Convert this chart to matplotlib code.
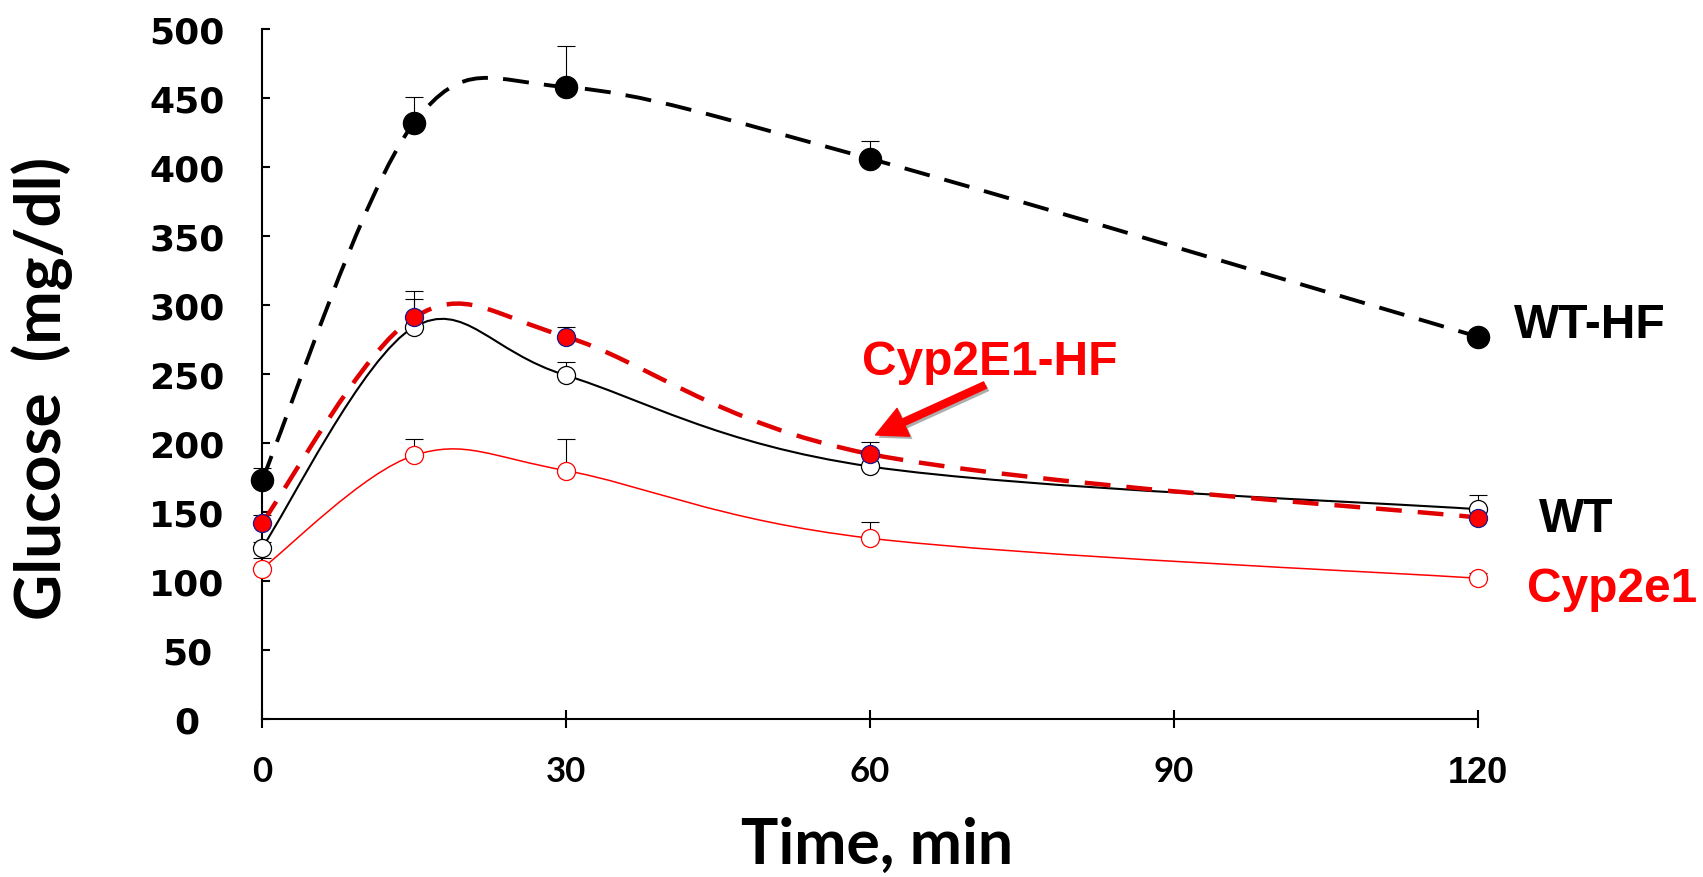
import numpy as np
import matplotlib
matplotlib.use('Agg')
import matplotlib.pyplot as plt
from matplotlib.path import Path
from matplotlib.patches import PathPatch
import matplotlib.patheffects as pe

# glucose tolerance test, mg/dl
time = [0, 15, 30, 60, 120]

wt = [124, 284, 249, 183, 152]
wt_err = [4, 26, 10, 12, 10]

wt_hf = [173, 432, 458, 406, 277]
wt_hf_err = [9, 19, 30, 13, 0]

cyp = [109, 191, 180, 131, 102]
cyp_err = [8, 12, 23, 12, 4]

cyp_hf = [142, 291, 277, 192, 146]
cyp_hf_err = [6, 13, 7, 9, 0]


def smooth_path(x, y):
    # excel style smoothed line: catmull-rom tangents as bezier handles
    pts = np.column_stack([x, y]).astype(float)
    ext = np.vstack([pts[0], pts, pts[-1]])
    verts = [pts[0]]
    codes = [Path.MOVETO]
    for i in range(len(pts) - 1):
        p0, p1, p2, p3 = ext[i], ext[i + 1], ext[i + 2], ext[i + 3]
        verts += [p1 + (p2 - p0) / 6, p2 - (p3 - p1) / 6, p2]
        codes += [Path.CURVE4] * 3
    return Path(verts, codes)


fig = plt.figure(figsize=(17.03, 8.78), dpi=100)
ax = fig.add_axes([262 / 1703, 1 - 720 / 878, (1478 - 262) / 1703, (720 - 30) / 878])

series = [
    # values, errors, line color, line width, dash, marker face, marker edge, marker size
    (wt, wt_err, 'black', 1.5, 'solid', 'white', 'black', 13),
    (cyp, cyp_err, 'red', 1.1, 'solid', 'white', 'red', 13),
    (cyp_hf, cyp_hf_err, '#e00000', 3.2, (0, (5.8, 3.6)), 'red', '#1a1a8c', 13),
    (wt_hf, wt_hf_err, 'black', 2.8, (0, (6.7, 3.9)), 'black', 'black', 16),
]

for vals, err, col, lw, ls, mfc, mec, ms in series:
    ax.errorbar(time, vals, yerr=[np.zeros(len(err)), err], fmt='none',
                ecolor='black', elinewidth=0.8, capsize=6.5, capthick=0.8,
                zorder=2, clip_on=False)
    ax.add_patch(PathPatch(smooth_path(time, vals), fill=False, edgecolor=col,
                           linewidth=lw, linestyle=ls, zorder=3))
    ax.plot(time, vals, ls='none', marker='o', ms=ms, mfc=mfc, mec=mec,
            mew=0.9, zorder=4, clip_on=False)

ax.set_xlim(0, 120)
ax.set_ylim(0, 500)
ax.spines['top'].set_visible(False)
ax.spines['right'].set_visible(False)
ax.spines['left'].set_linewidth(1.5)
ax.spines['bottom'].set_linewidth(1.5)

ax.set_yticks(range(0, 501, 50))
ax.set_yticklabels([str(v) for v in range(0, 501, 50)],
                   fontfamily='DejaVu Sans', fontweight='bold', fontsize=26)
for lbl in ax.get_yticklabels():
    lbl.set_ha('center')
ax.tick_params(axis='y', direction='in', length=5.5, width=1.5, pad=54)

ax.set_xticks([0, 30, 60, 90, 120])
ax.set_xticklabels(['0', '30', '60', '90', '120'],
                   fontfamily='Lato', fontweight='bold', fontsize=25)
last = ax.get_xticklabels()[-1]
last.set_family('Liberation Sans')
last.set_size(26)
ax.tick_params(axis='x', direction='inout', length=12.5, width=1.5, pad=20)

# axis titles
fig.text(877 / 1703, 1 - 846 / 878, 'Time, min', ha='center', va='center',
         fontfamily='Lato', fontweight='bold', fontsize=45)
fig.text(42 / 1703, 1 - 388 / 878, 'Glucose  (mg/dl)', ha='center', va='center',
         rotation=90, fontfamily='Lato', fontweight='bold', fontsize=46)

# group labels
lab = dict(fontfamily='Liberation Sans', fontweight='bold', fontsize=34.5,
           va='baseline', ha='left')
ax.text(123.5, 276.8, 'WT-HF', color='black', clip_on=False, **lab)
ax.text(126.0, 136.2, 'WT', color='black', clip_on=False, **lab)
ax.text(124.8, 85.5, 'Cyp2e1', color='red', clip_on=False, **lab)
ax.text(59.2, 250, 'Cyp2E1-HF', color='red', **lab)

ax.annotate('', xy=(60.3, 205), xytext=(71.6, 242.8),
            arrowprops=dict(arrowstyle='simple,head_length=1.1,head_width=1.1,tail_width=0.25',
                            fc='red', ec='red', mutation_scale=20,
                            path_effects=[pe.SimplePatchShadow(offset=(2, -2), shadow_rgbFace='#999999', alpha=0.8),
                                          pe.Normal()]),
            zorder=5)

fig.savefig('out.png', dpi=100)
